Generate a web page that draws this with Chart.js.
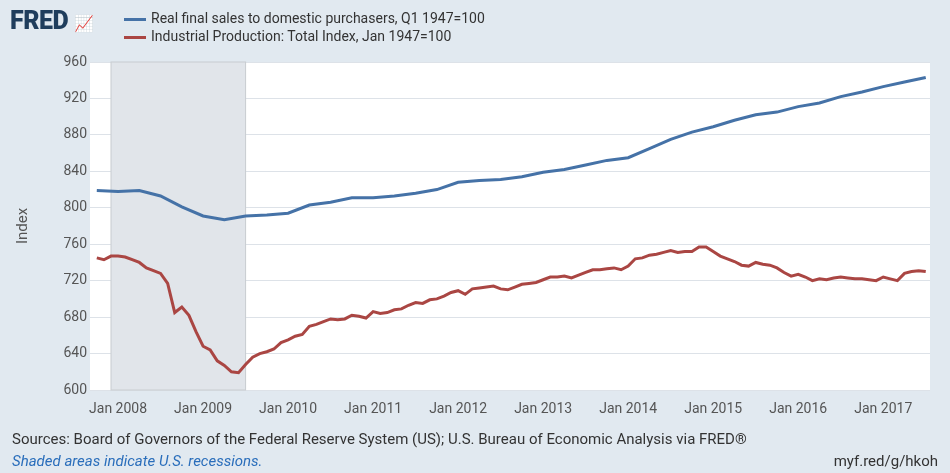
<!DOCTYPE html>
<html>
<head>
<meta charset="utf-8">
<script src="https://cdn.jsdelivr.net/npm/chart.js@4/dist/chart.umd.min.js"></script>
<style>
  body { margin: 0; background: #e1e9f0; font-family: Roboto, sans-serif; }
  #wrap { position: relative; width: 950px; height: 473px; }
  #trendChart { position: absolute; left: 0; top: 0; }
  .logo { position: absolute; left: 10px; top: 6px; font: 900 25px Roboto, sans-serif; color: #1f3d5c; letter-spacing: -0.5px; }
  .legend { position: absolute; left: 124px; font-size: 14px; color: #333; }
  .legend span { display: inline-block; width: 22px; height: 3px; margin-right: 5px; vertical-align: middle; }
  .src { position: absolute; left: 12px; top: 430px; font-size: 15px; color: #333; }
  .rec { position: absolute; left: 12px; top: 452px; font-size: 15px; color: #2a6ebb; font-style: italic; }
  .url { position: absolute; right: 12px; top: 452px; font-size: 15px; color: #333; }
</style>
</head>
<body>
<div id="wrap">
  <canvas id="trendChart" width="950" height="473"></canvas>
  <div class="logo">FRED <span style="font-size:16px;color:#4572a7;">&#x1F4C8;</span></div>
  <div class="legend" style="top:10px"><span style="background:#4572a7"></span>Real final sales to domestic purchasers, Q1 1947=100</div>
  <div class="legend" style="top:28px"><span style="background:#aa4643"></span>Industrial Production: Total Index, Jan 1947=100</div>
  <div class="src">Sources: Board of Governors of the Federal Reserve System (US); U.S. Bureau of Economic Analysis via FRED®</div>
  <div class="rec">Shaded areas indicate U.S. recessions.</div>
  <div class="url">myf.red/g/hkoh</div>
</div>
<script>
// --- DATA ---
const salesStart = 2007.75; // Q4 2007, quarterly
const salesValues = [819, 818, 819, 813, 801, 791, 787, 791, 792, 794, 803, 806,
  811, 811, 813, 816, 820, 828, 830, 831, 834, 839, 842, 847, 852, 855, 865, 875,
  883, 889, 896, 902, 905, 911, 915, 922, 927, 933, 938, 943];

const ipStart = 2007.75; // Oct 2007, monthly
const ipValues = [745, 743, 747,
  747, 746, 743, 740, 734, 731, 728, 717, 685, 691, 682, 664,
  648, 644, 632, 627, 620, 619, 628, 636, 640, 642, 645, 652,
  655, 659, 661, 670, 672, 675, 678, 677, 678, 682, 681, 679,
  686, 684, 685, 688, 689, 693, 696, 695, 699, 700, 703, 707,
  709, 705, 711, 712, 713, 714, 711, 710, 713, 716, 717, 718,
  721, 724, 724, 725, 723, 726, 729, 732, 732, 733, 734, 732,
  736, 744, 745, 748, 749, 751, 753, 751, 752, 752, 757, 757,
  752, 747, 744, 741, 737, 736, 740, 738, 737, 734, 729, 725,
  727, 724, 720, 722, 721, 723, 724, 723, 722, 722, 721, 720,
  724, 722, 720, 728, 730, 731, 730];

const tickYears = [2008, 2009, 2010, 2011, 2012, 2013, 2014, 2015, 2016, 2017];
const recession = [2007.917, 2009.5];

const salesData = salesValues.map((v, i) => ({ x: salesStart + i / 4, y: v }));
const ipData = ipValues.map((v, i) => ({ x: ipStart + i / 12, y: v }));

// --- RECESSION SHADING ---
const shade = {
  id: 'shade',
  beforeDatasetsDraw(chart) {
    const { ctx, chartArea, scales } = chart;
    const x0 = scales.x.getPixelForValue(recession[0]);
    const x1 = scales.x.getPixelForValue(recession[1]);
    ctx.save();
    ctx.fillStyle = '#e1e5ea';
    ctx.fillRect(x0, chartArea.top, x1 - x0, chartArea.bottom - chartArea.top);
    ctx.strokeStyle = '#c8ccd0';
    ctx.strokeRect(x0, chartArea.top, x1 - x0, chartArea.bottom - chartArea.top);
    ctx.restore();
  }
};
const bg = {
  id: 'bg',
  beforeDraw(chart) {
    const { ctx, chartArea } = chart;
    ctx.save();
    ctx.fillStyle = '#ffffff';
    ctx.fillRect(chartArea.left, chartArea.top, chartArea.right - chartArea.left, chartArea.bottom - chartArea.top);
    ctx.restore();
  }
};

// --- CHART ---
new Chart(document.getElementById('trendChart'), {
  type: 'scatter',
  data: {
    datasets: [
      { data: salesData, showLine: true, borderColor: '#4572a7', borderWidth: 3, pointRadius: 0, tension: 0 },
      { data: ipData, showLine: true, borderColor: '#aa4643', borderWidth: 3, pointRadius: 0, tension: 0 }
    ]
  },
  options: {
    responsive: false,
    animation: false,
    layout: { padding: { top: 62, right: 20, bottom: 58, left: 10 } },
    plugins: { legend: { display: false }, tooltip: { enabled: false } },
    scales: {
      x: {
        type: 'linear', min: 2007.67, max: 2017.55,
        afterBuildTicks: s => { s.ticks = tickYears.map(v => ({ value: v })); },
        ticks: { callback: v => 'Jan ' + v, color: '#555', font: { family: 'Roboto', size: 14 }, maxRotation: 0 },
        grid: { display: false, drawTicks: true },
        border: { display: false },
        afterFit: s => { s.height = 25; }
      },
      y: {
        min: 600, max: 960,
        ticks: { stepSize: 40, color: '#555', font: { family: 'Roboto', size: 14 } },
        grid: { color: '#dde2e8', drawTicks: false },
        border: { display: false },
        title: { display: true, text: 'Index', color: '#555', font: { family: 'Roboto', size: 15 } },
        afterFit: s => { s.width = 80; }
      }
    }
  },
  plugins: [bg, shade]
});
</script>
</body>
</html>
